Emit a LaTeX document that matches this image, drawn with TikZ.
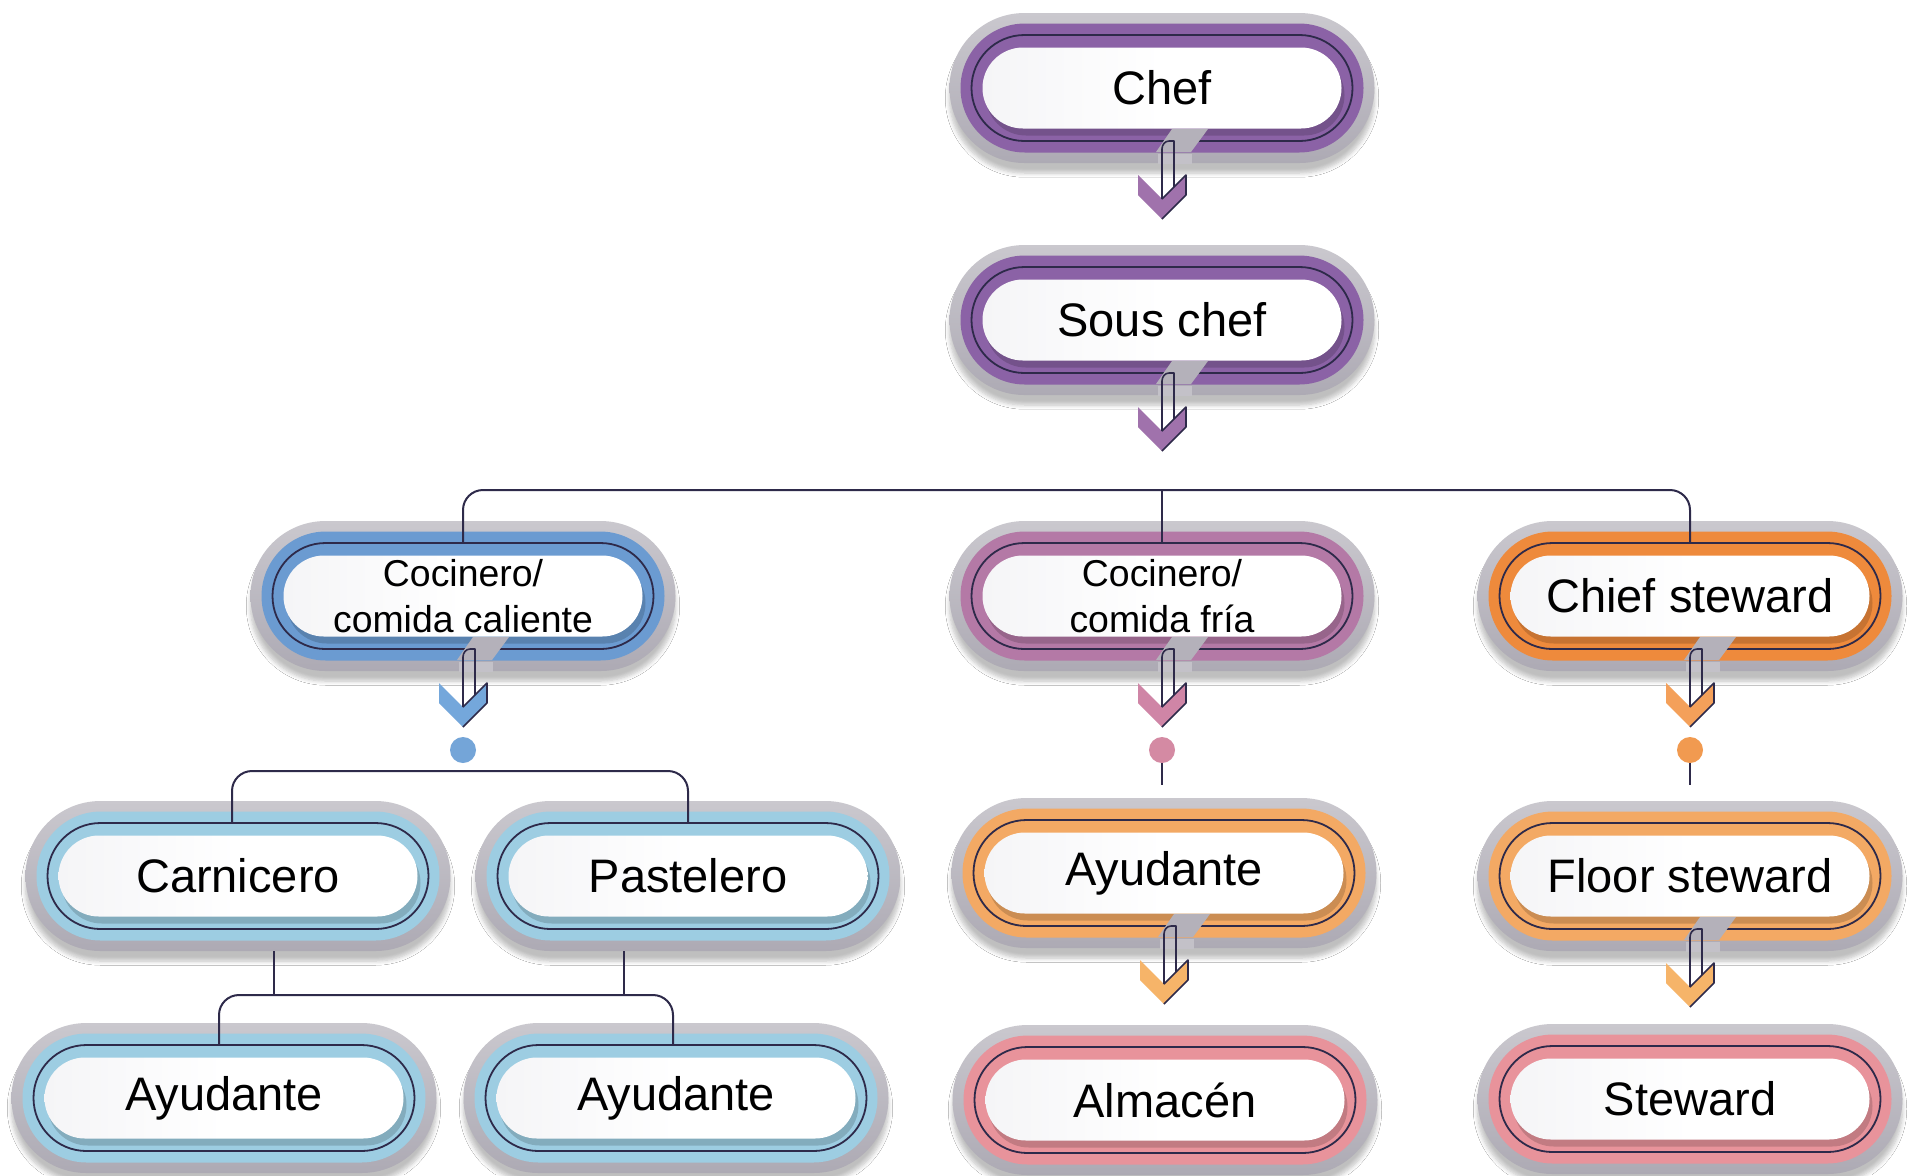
\documentclass[tikz,border=0pt]{standalone}
\usepackage{fontspec}
\setmainfont{Liberation Sans}
\usetikzlibrary{shapes.misc,shadows.blur}
\definecolor{dk}{HTML}{2E2A4A}
\definecolor{haloTop}{HTML}{CAC8CE}
\definecolor{haloBot}{HTML}{ADAAB4}
\definecolor{cutGray}{HTML}{B4B1BA}
\definecolor{coreC}{HTML}{F5F5F7}
\definecolor{purpleB}{HTML}{8B62A6}
\definecolor{purpleA}{HTML}{A072AC}
\definecolor{blueB}{HTML}{6B9BD1}
\definecolor{blueA}{HTML}{74A7DB}
\definecolor{blueD}{HTML}{74A5D8}
\definecolor{mauveB}{HTML}{B479A6}
\definecolor{mauveA}{HTML}{CF85A6}
\definecolor{mauveD}{HTML}{D48AA3}
\definecolor{orangeB}{HTML}{EE8A3C}
\definecolor{orangeA}{HTML}{F4A05A}
\definecolor{orangeD}{HTML}{F19A50}
\definecolor{lblueB}{HTML}{9DCDE2}
\definecolor{lorangeB}{HTML}{F3A964}
\definecolor{lorangeA}{HTML}{F6B469}
\definecolor{pinkB}{HTML}{E8939B}
\tikzset{
  pillbase/.style={rounded rectangle, inner sep=0pt, outer sep=0pt},
  halo/.style={pillbase, minimum width=212.5pt, minimum height=75pt,
    top color=haloTop, bottom color=haloBot,
    blur shadow={shadow xshift=0pt, shadow yshift=-5pt, shadow blur steps=6, shadow opacity=25}},
  band/.style={pillbase, minimum width=201.5pt, minimum height=64.5pt, fill=#1},
  shade/.style={pillbase, minimum width=179.5pt, minimum height=40.5pt, fill=black, fill opacity=0.16},
  ring/.style={pillbase, minimum width=190.5pt, minimum height=53pt, draw=dk, line width=0.9pt},
  core/.style={pillbase, minimum width=179.5pt, minimum height=40.5pt, left color=coreC, right color=white, middle color=white},
  lbl/.style={font=\fontsize{23.5}{26}\selectfont, text=black},
  lblsmall/.style={font=\fontsize{18.7}{23}\selectfont, text=black, align=center},
  conn/.style={draw=dk, line width=1pt},
  dotn/.style={circle, inner sep=0pt, minimum size=13pt, fill=#1},
}
\newcommand\pillbox[5]{%
  \node[halo] (#1H) at (#2) {};
  \node[band=#3] (#1B) at (#2) {};
  \node[shade, xshift=1.5pt, yshift=-3.5pt] (#1S) at (#2) {};
  \node[ring] (#1) at (#2) {};
  \node[core] (#1C) at (#2) {};
  \node[#5] (#1T) at (#2) {#4};
}
\newcommand\flowarrow[2]{%
  \begin{scope}[shift={(#1.center)}]
    \fill[cutGray] (-6,64) -- (10,41) -- (46,41) -- (29,64) -- cycle;
    \fill[cutGray!80!white] (-4,66) -- (30,66) -- (30,76) -- (-4,76) -- cycle;
    \fill[#2] (-24,87) -- (0,111) -- (24,87) -- (24,107) -- (0,131) -- (-24,107) -- cycle;
    \draw[dk, line width=0.8pt, line join=round] (0,111) -- (24,87) -- (24,107) -- (0,131);
    \draw[dk, line width=0.8pt, line join=round] (0,111) -- (0,61) to[out=90,in=180] (7,53) -- (12,53) -- (12,99);
  \end{scope}
}
\begin{document}
\begin{tikzpicture}[x=0.5pt, y=-0.5pt]
\useasboundingbox (0,0) rectangle (1907,1175);
\fill[white] (0,0) rectangle (1907,1175);

\pillbox{chef}{1162,88}{purpleB}{Chef}{lbl}
\pillbox{sous}{1162,320}{purpleB}{Sous chef}{lbl}
\flowarrow{chef}{purpleA}
\flowarrow{sous}{purpleA}

\pillbox{cal}{463,596}{blueB}{Cocinero/\\comida caliente}{lblsmall}
\pillbox{fria}{1162,596}{mauveB}{Cocinero/\\comida fría}{lblsmall}
\pillbox{chst}{1690,596}{orangeB}{Chief steward}{lbl}

\draw[conn, rounded corners=10pt] (cal.north) -- ++(0,-53) -| (chst.north);
\draw[conn] (fria.north) -- ++(0,-53);

\flowarrow{cal}{blueA}
\flowarrow{fria}{mauveA}
\flowarrow{chst}{orangeA}

\node[dotn=blueD] (dcal) at (463,750) {};
\node[dotn=mauveD] (dfria) at (1162,750) {};
\node[dotn=orangeD] (dchst) at (1690,750) {};

\pillbox{carn}{238,876}{lblueB}{Carnicero}{lbl}
\pillbox{past}{688,876}{lblueB}{Pastelero}{lbl}
\pillbox{ayuM}{1164,873}{lorangeB}{Ayudante}{lbl}
\pillbox{flst}{1690,876}{lorangeB}{Floor steward}{lbl}

\draw[conn, rounded corners=10pt] ([xshift=-3pt]carn.north) -- ++(0,-52) -| (past.north);
\draw[conn] (dfria.south) -- ++(0,22);
\draw[conn] (dchst.south) -- ++(0,22);

\flowarrow{ayuM}{lorangeA}
\flowarrow{flst}{lorangeA}

\pillbox{ayuA}{224,1098}{lblueB}{Ayudante}{lbl}
\pillbox{ayuB}{676,1098}{lblueB}{Ayudante}{lbl}
\pillbox{alm}{1165,1100}{pinkB}{Almacén}{lbl}
\pillbox{stew}{1690,1099}{pinkB}{Steward}{lbl}

\draw[conn] ([xshift=18pt]carnH.south) -- ++(0,43);
\draw[conn] ([xshift=-32pt]pastH.south) -- ++(0,43);
\draw[conn, rounded corners=10pt] ([xshift=-2.5pt]ayuA.north) -- ++(0,-50) -| ([xshift=-1.5pt]ayuB.north);
\end{tikzpicture}
\end{document}
